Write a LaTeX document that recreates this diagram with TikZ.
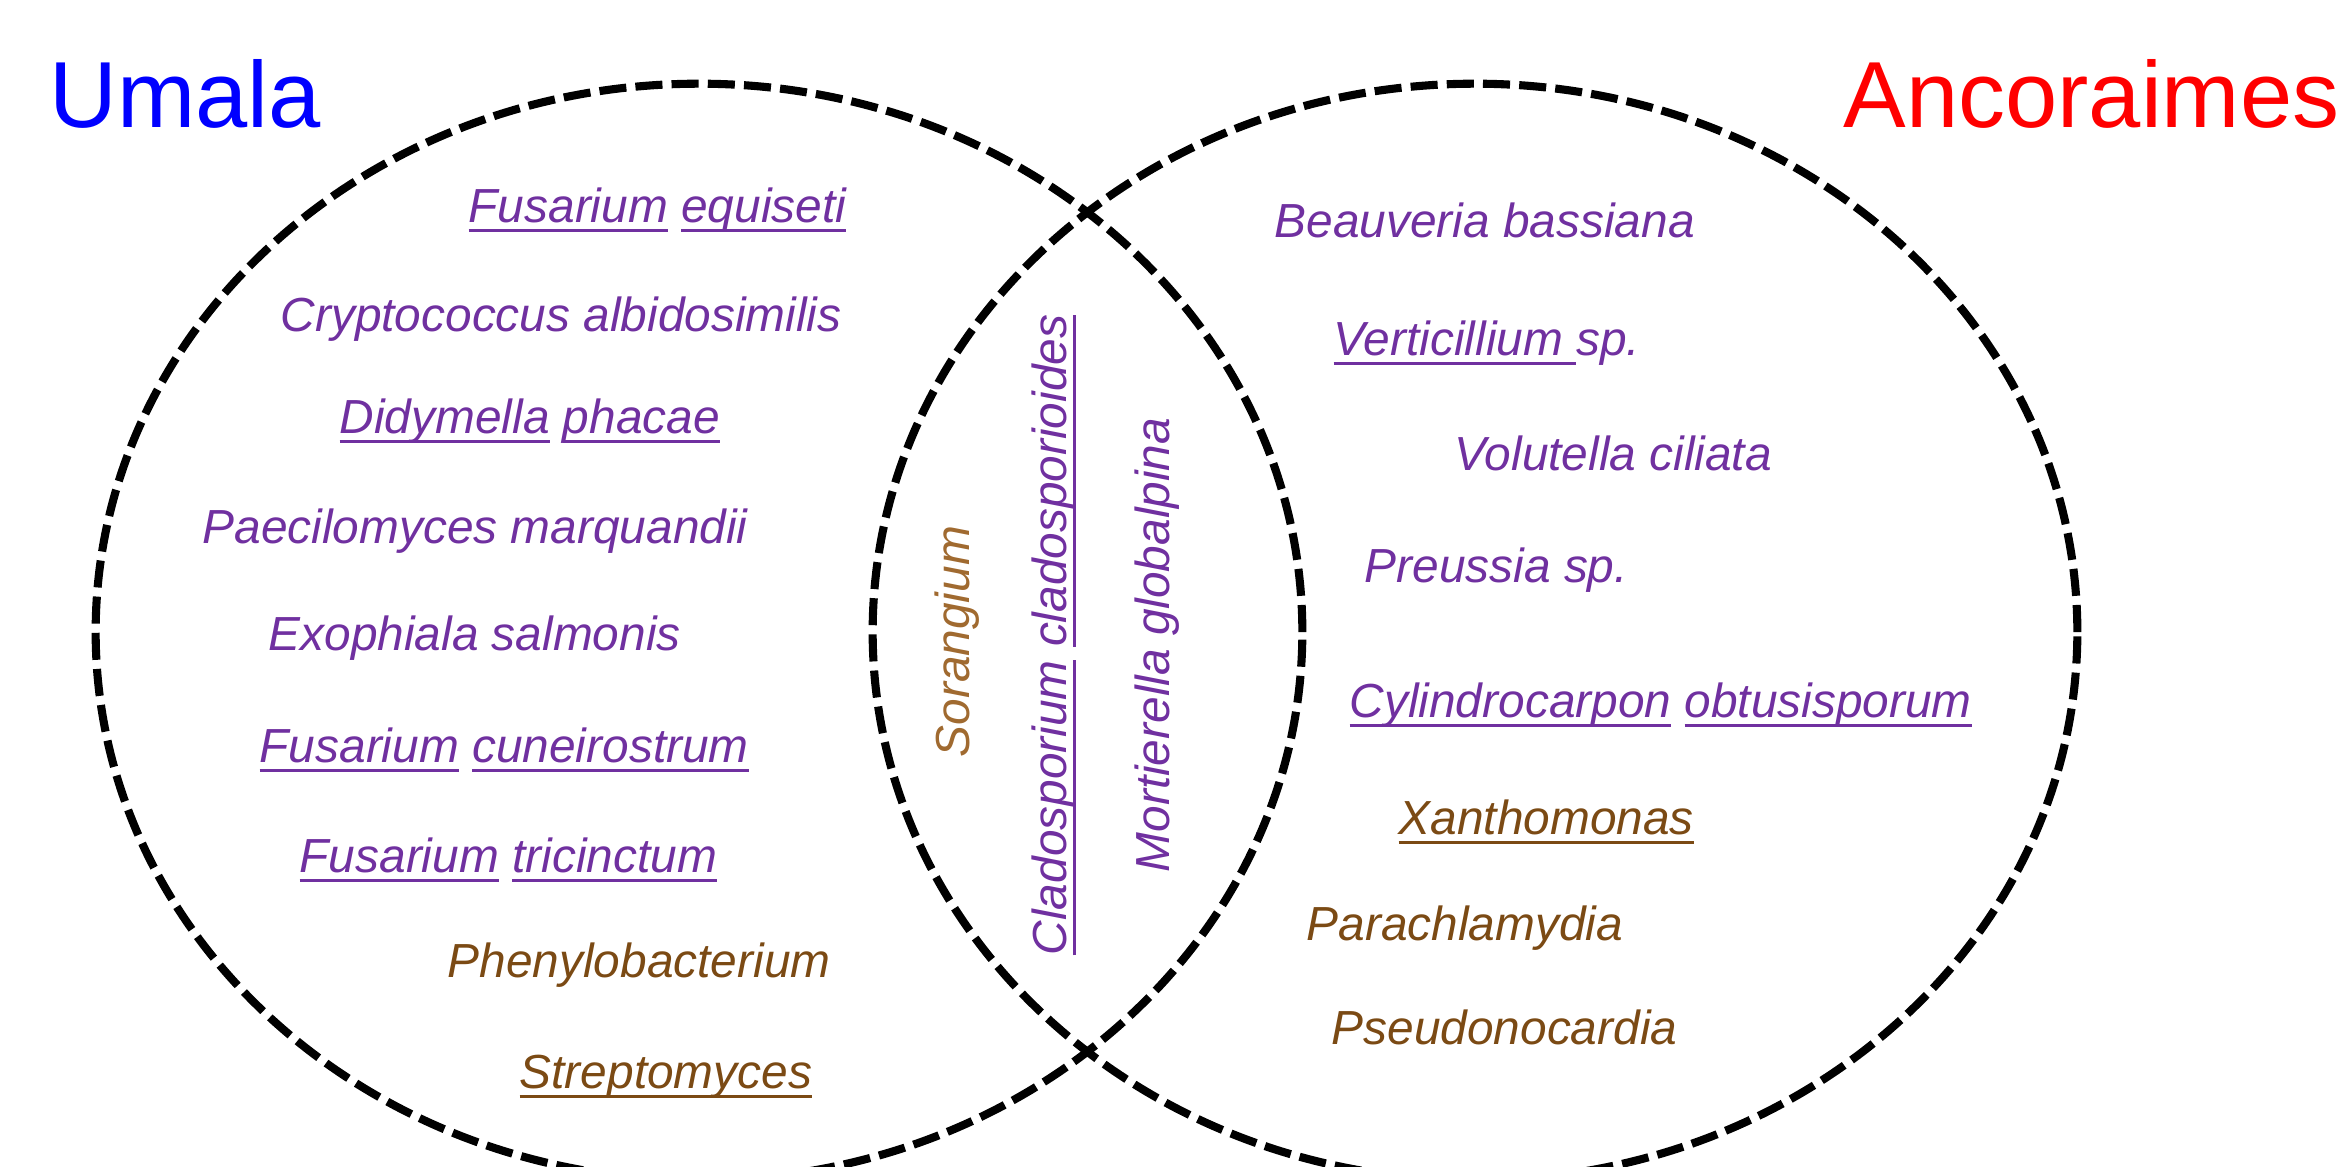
\documentclass[tikz,border=0pt]{standalone}
\usepackage{fontspec}
\setmainfont{Liberation Sans}
\definecolor{spurple}{HTML}{7030A0}
\definecolor{sbrown}{HTML}{7B4A14}
\definecolor{slight}{HTML}{A06A30}
\newsavebox\ulbox
\newcommand\ulw[1]{\sbox\ulbox{#1}\rlap{\rule[-0.2em]{\wd\ulbox}{0.06em}}\usebox\ulbox}
\begin{document}
\begin{tikzpicture}[x=0.01cm,y=-0.01cm,
  venn/.style={line width=2.3pt,dash pattern=on 7.7pt off 2.6pt},
  sp/.style={inner sep=0pt,anchor=base west,font=\fontsize{13.6pt}{16pt}\selectfont\itshape},
  fungus/.style={sp,text=spurple},
  bact/.style={sp,text=sbrown},
  title/.style={inner sep=0pt,font=\fontsize{26.7pt}{30pt}\selectfont}]
\useasboundingbox (0,0) rectangle (2345,1166);
\fill[white] (0,0) rectangle (2345,1166);
% circles
\coordinate (cl) at (699,632);
\coordinate (cr) at (1475,632);
\draw[venn] (cl) ellipse [x radius=6.03cm, y radius=5.48cm];
\draw[venn] (cr) ellipse [x radius=6.02cm, y radius=5.48cm];
% titles
\node[title,anchor=base west,text=blue] (tu) at (49,127) {Umala};
\node[title,anchor=base east,text=red] (ta) at (2340,127) {Ancoraimes};
% Umala only
\node[fungus] (l1) at (468,222) {\ulw{Fusarium} \ulw{equiseti}};
\node[fungus] (l2) at (280,331) {Cryptococcus albidosimilis};
\node[fungus] (l3) at (339,433) {\ulw{Didymella} \ulw{phacae}};
\node[fungus] (l4) at (202,543) {Paecilomyces marquandii};
\node[fungus] (l5) at (268,650) {Exophiala salmonis};
\node[fungus] (l6) at (259,762) {\ulw{Fusarium} \ulw{cuneirostrum}};
\node[fungus] (l7) at (299,872) {\ulw{Fusarium} \ulw{tricinctum}};
\node[bact] (l8) at (447,977) {Phenylobacterium};
\node[bact] (l9) at (519,1088) {\ulw{Streptomyces}};
% Ancoraimes only
\node[fungus] (r1) at (1274,237) {Beauveria bassiana};
\node[fungus] (r2) at (1333,355) {\ulw{Verticillium\ }sp.};
\node[fungus] (r3) at (1454,470) {Volutella ciliata};
\node[fungus] (r4) at (1364,582) {Preussia sp.};
\node[fungus] (r5) at (1349,717) {\ulw{Cylindrocarpon} \ulw{obtusisporum}};
\node[bact] (r6) at (1398,834) {\ulw{Xanthomonas}};
\node[bact] (r7) at (1306,940) {Parachlamydia};
\node[bact] (r8) at (1331,1044) {Pseudonocardia};
% shared
\node[sp,text=slight,rotate=90] (c1) at (969,758) {Sorangium};
\node[fungus,rotate=90] (c2) at (1066,956) {\ulw{Cladosporium} \ulw{cladosporioides}};
\node[fungus,rotate=90] (c3) at (1169,873) {Mortierella globalpina};
\end{tikzpicture}
\end{document}
